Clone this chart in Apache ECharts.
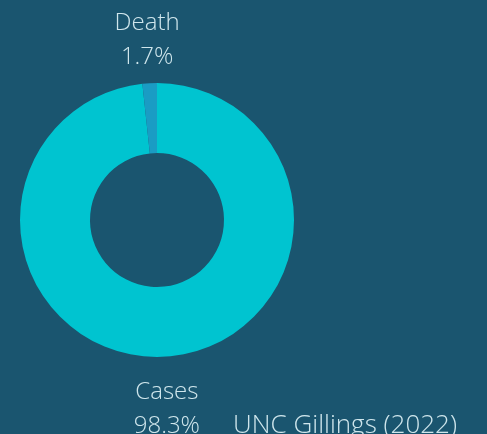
<!DOCTYPE html>
<html>
<head>
<meta charset="utf-8">
<script src="https://cdn.jsdelivr.net/npm/echarts@6/dist/echarts.min.js"></script>
<style>
html,body{margin:0;padding:0;background:#1a556f;}
#chart{width:487px;height:434px;}
</style>
</head>
<body>
<div id="chart"></div>
<script>
const categories = ['Cases', 'Death'];
const shares = [98.3, 1.7];
const sliceColors = ['#00c4d0', '#1a9cc4'];
const sourceNote = 'UNC Gillings (2022)';

const pieData = categories.map((name, i) => ({ name: name, value: shares[i], itemStyle: { color: sliceColors[i] } }));
const labelData = categories.map((name, i) => ({ name: name, value: shares[i] }));

const chart = echarts.init(document.getElementById('chart'));
chart.setOption({
  backgroundColor: '#1a556f',
  animation: false,
  title: {
    text: sourceNote,
    right: 30,
    top: 413,
    padding: 0,
    textStyle: { color: '#cfe6ec', fontFamily: 'Open Sans', fontWeight: 300, fontSize: 26, lineHeight: 26 }
  },
  series: [
    {
      type: 'pie',
      center: [157, 220],
      radius: [67, 137],
      startAngle: 90,
      clockwise: true,
      silent: true,
      label: { show: false },
      labelLine: { show: false },
      itemStyle: { borderWidth: 0 },
      data: pieData
    },
    {
      type: 'pie',
      center: [157, 225],
      radius: [164, 199.5],
      startAngle: 90,
      clockwise: true,
      silent: true,
      itemStyle: { color: 'rgba(0,0,0,0)', borderWidth: 0 },
      label: {
        show: true,
        position: 'inside',
        formatter: p => p.name + '\n' + p.value + '%',
        color: '#cfe6ec',
        fontFamily: 'Open Sans',
        fontWeight: 300,
        fontSize: 24,
        lineHeight: 34,
        align: 'center'
      },
      labelLine: { show: false },
      data: labelData
    }
  ]
});
</script>
</body>
</html>
